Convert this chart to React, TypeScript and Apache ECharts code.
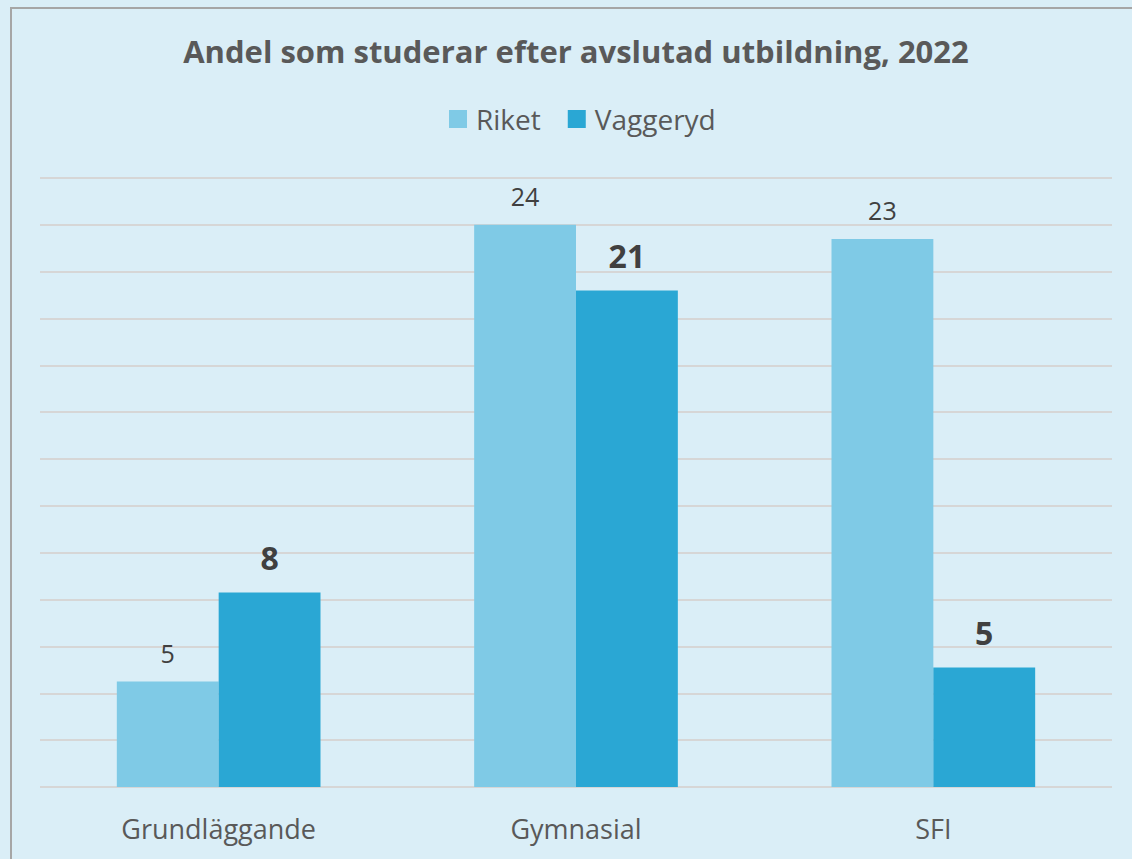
import React, { useEffect, useRef } from "react";
import * as echarts from "echarts";

const categories = ["Grundläggande", "Gymnasial", "SFI"];
const riket = [4.5, 24.0, 23.4];
const vaggeryd = [8.3, 21.2, 5.1];
const seriesNames = ["Riket", "Vaggeryd"];
const titleText = "Andel som studerar efter avslutad utbildning, 2022";

const FONT = "'Open Sans', sans-serif";

export default function App() {
  const ref = useRef<HTMLDivElement>(null);
  useEffect(() => {
    if (!ref.current) return;
    const chart = echarts.init(ref.current, undefined, { renderer: "svg" });
    chart.setOption({
      animation: false,
      backgroundColor: "#daeef7",
      textStyle: { fontFamily: FONT },
      title: {
        text: titleText,
        left: 571,
        textAlign: "center",
        top: 30,
        textStyle: { fontFamily: FONT, fontWeight: "bold", fontSize: 31, color: "#595959" },
      },
      legend: {
        data: seriesNames,
        top: 100,
        left: 444,
        itemWidth: 18,
        itemHeight: 18,
        itemGap: 27,
        icon: "rect",
        textStyle: { fontFamily: FONT, fontSize: 28, color: "#595959", padding: [0, 0, 0, 4] },
      },
      graphic: [
        {
          type: "rect",
          shape: { x: 11, y: 8, width: 1200, height: 1000 },
          style: { fill: "none", stroke: "#a6a6a6", lineWidth: 2 },
          silent: true,
        },
      ],
      grid: { left: 40, right: 20, top: 178, bottom: 72, containLabel: false },
      xAxis: {
        type: "category",
        data: categories,
        axisLine: { show: false },
        axisTick: { show: false },
        axisLabel: { fontFamily: FONT, fontSize: 27, color: "#595959", margin: 28 },
      },
      yAxis: {
        type: "value",
        min: 0,
        max: 26,
        interval: 2,
        axisLabel: { show: false },
        axisLine: { show: false },
        axisTick: { show: false },
        splitLine: { lineStyle: { color: "#d6d6d6", width: 2 } },
      },
      series: [
        {
          name: seriesNames[0],
          type: "bar",
          data: riket,
          barGap: "0%",
          barCategoryGap: "43%",
          itemStyle: { color: "#7fcae6" },
          label: {
            show: true,
            position: "top",
            distance: 16,
            fontFamily: FONT,
            fontSize: 25,
            color: "#404040",
            formatter: (p: any) => Math.round(p.value).toString(),
          },
        },
        {
          name: seriesNames[1],
          type: "bar",
          data: vaggeryd,
          barGap: "0%",
          barCategoryGap: "43%",
          itemStyle: { color: "#2aa7d4" },
          label: {
            show: true,
            position: "top",
            distance: 19,
            fontFamily: FONT,
            fontSize: 32,
            fontWeight: "bold",
            color: "#404040",
            formatter: (p: any) => Math.round(p.value).toString(),
          },
        },
      ],
    });
    return () => chart.dispose();
  }, []);
  return (
    <div
      ref={ref}
      style={{ position: "fixed", left: 0, top: 0, width: 1132, height: 859 }}
    />
  );
}
